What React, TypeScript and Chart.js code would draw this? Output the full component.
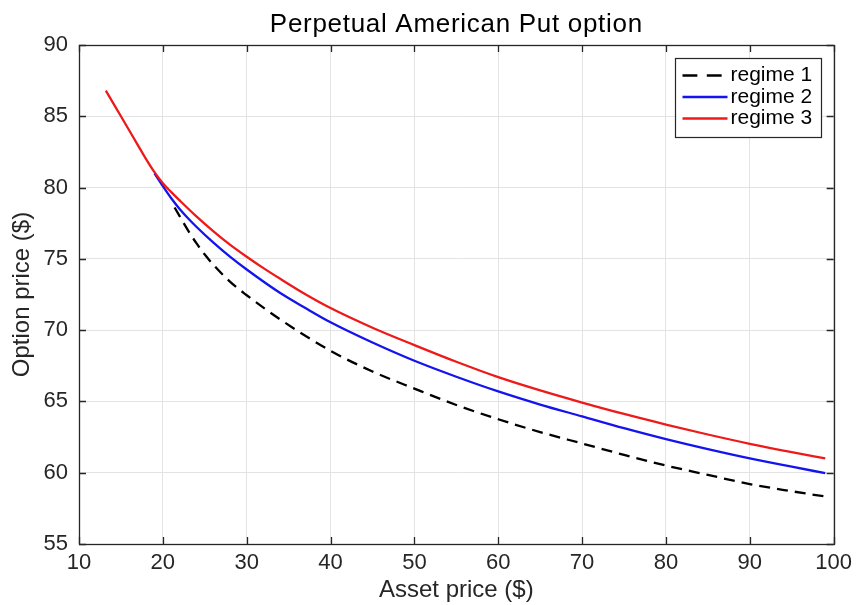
import React, { useEffect, useRef } from "react";
import { Chart, registerables } from "chart.js";

Chart.register(...registerables);

// ---------- data ----------
const chartTitle = "Perpetual American Put option";
const xAxisTitle = "Asset price ($)";
const yAxisTitle = "Option price ($)";
const seriesLabels = ["regime 1", "regime 2", "regime 3"];

const xTicks = [10, 20, 30, 40, 50, 60, 70, 80, 90, 100];
const yTicks = [55, 60, 65, 70, 75, 80, 85, 90];

const regime1X = [21.4, 22, 23, 24, 25, 26, 28, 30, 34, 40, 45, 50, 55, 60, 65, 70, 75, 80, 85, 90, 95, 99];
const regime1Y = [78.6, 78.0, 77.0, 76.1, 75.3, 74.6, 73.4, 72.45, 70.75, 68.55, 67.1, 65.9, 64.75, 63.75, 62.85, 62.05, 61.25, 60.5, 59.85, 59.2, 58.7, 58.33];

const regime2X = [19, 20, 21, 22, 23, 24, 26, 28, 30, 34, 37, 40, 45, 50, 55, 60, 65, 70, 75, 80, 85, 90, 95, 99];
const regime2Y = [81.0, 80.1, 79.25, 78.5, 77.85, 77.25, 76.15, 75.15, 74.25, 72.6, 71.55, 70.55, 69.13, 67.85, 66.73, 65.7, 64.78, 63.95, 63.12, 62.35, 61.65, 61.0, 60.42, 59.97];

const regime3X = [13.2, 15, 17, 18, 19, 20, 21, 22, 24, 26, 28, 30, 32, 34, 37, 40, 45, 50, 55, 60, 65, 70, 75, 80, 85, 90, 95, 99];
const regime3Y = [86.8, 85.0, 83.0, 82.0, 81.08, 80.3, 79.68, 79.1, 77.98, 76.95, 76.0, 75.15, 74.35, 73.6, 72.52, 71.55, 70.17, 68.95, 67.78, 66.7, 65.77, 64.92, 64.12, 63.38, 62.68, 62.03, 61.44, 61.0];

// ---------- styles ----------
const FONT = "'Liberation Sans', Arial, Helvetica, sans-serif";
const AXIS_COLOR = "#262626";
const GRID_COLOR = "#e3e3e3";
const COLORS = ["#000000", "#1414ee", "#ee1a1a"];
const DASHES: number[][] = [[11, 7], [], []];

const toPoints = (xs: number[], ys: number[]) => xs.map((x, i) => ({ x, y: ys[i] }));

const titlePlugin = {
  id: "centeredTitle",
  afterDraw(chart: any) {
    const { ctx, chartArea } = chart;
    ctx.save();
    ctx.font = `26px ${FONT}`;
    try {
      (ctx as any).letterSpacing = "0.7px";
    } catch (e) {}
    ctx.fillStyle = "#000000";
    ctx.textAlign = "center";
    ctx.textBaseline = "alphabetic";
    ctx.fillText(chartTitle, (chartArea.left + chartArea.right) / 2, 31.5);
    ctx.restore();
  },
};

const framePlugin = {
  id: "matlabFrame",
  afterDatasetsDraw(chart: any) {
    const { ctx, chartArea, scales } = chart;
    const { left, right, top, bottom } = chartArea;
    const xs = scales.x;
    const ys = scales.y;
    const tl = 7;
    ctx.save();
    ctx.strokeStyle = AXIS_COLOR;
    ctx.lineWidth = 1.3;
    ctx.setLineDash([]);
    ctx.beginPath();
    xs.ticks.forEach((t: any) => {
      const px = Math.round(xs.getPixelForValue(t.value)) + 0.5;
      ctx.moveTo(px, bottom);
      ctx.lineTo(px, bottom - tl);
      ctx.moveTo(px, top);
      ctx.lineTo(px, top + tl);
    });
    ys.ticks.forEach((t: any) => {
      const py = Math.round(ys.getPixelForValue(t.value)) + 0.5;
      ctx.moveTo(left, py);
      ctx.lineTo(left + tl, py);
      ctx.moveTo(right, py);
      ctx.lineTo(right - tl, py);
    });
    ctx.stroke();
    ctx.strokeRect(Math.round(left) + 0.5, Math.round(top) + 0.5, Math.round(right - left), Math.round(bottom - top));
    ctx.restore();
  },
};

const legendPlugin = {
  id: "boxLegend",
  afterDraw(chart: any) {
    const { ctx, chartArea } = chart;
    const ds = chart.data.datasets;
    const boxW = 146;
    const boxH = 79;
    const bx = Math.round(chartArea.right - 13 - boxW) + 0.5;
    const by = Math.round(chartArea.top + 13) + 0.5;
    ctx.save();
    ctx.fillStyle = "#ffffff";
    ctx.fillRect(bx, by, boxW, boxH);
    ctx.strokeStyle = AXIS_COLOR;
    ctx.lineWidth = 1.2;
    ctx.strokeRect(bx, by, boxW, boxH);
    ctx.font = `21px ${FONT}`;
    ctx.textBaseline = "middle";
    ctx.textAlign = "left";
    ds.forEach((d: any, i: number) => {
      const cy = by + 17 + i * 21.5;
      ctx.strokeStyle = d.borderColor;
      ctx.lineWidth = d.borderWidth;
      const dash = (d.borderDash || []).map((v: number) => v * 1.35);
      ctx.setLineDash(dash);
      ctx.beginPath();
      ctx.moveTo(bx + 7, cy);
      ctx.lineTo(bx + 52, cy);
      ctx.stroke();
      ctx.setLineDash([]);
      ctx.fillStyle = "#000000";
      ctx.fillText(d.label, bx + 55, cy);
    });
    ctx.restore();
  },
};

export default function App() {
  const ref = useRef<HTMLCanvasElement | null>(null);

  useEffect(() => {
    document.body.style.margin = "0";
    const canvas = ref.current;
    if (!canvas) return;
    const xsList = [regime1X, regime2X, regime3X];
    const ysList = [regime1Y, regime2Y, regime3Y];
    const chart = new Chart(canvas, {
      type: "line",
      data: {
        datasets: seriesLabels.map((label, i) => ({
          label,
          data: toPoints(xsList[i], ysList[i]),
          borderColor: COLORS[i],
          backgroundColor: COLORS[i],
          borderWidth: 2.3,
          borderDash: DASHES[i],
          pointRadius: 0,
          fill: false,
          tension: 0.4,
          cubicInterpolationMode: "monotone" as const,
          order: 2 - i,
        })),
      },
      options: {
        responsive: false,
        animation: false,
        layout: { padding: { left: 0, right: 23, top: 45, bottom: 0 } },
        plugins: {
          legend: { display: false },
          tooltip: { enabled: false },
          title: { display: false },
        },
        scales: {
          x: {
            type: "linear",
            min: 10,
            max: 100,
            afterBuildTicks: (scale: any) => {
              scale.ticks = xTicks.map((v) => ({ value: v }));
            },
            afterFit: (scale: any) => {
              scale.height = 61;
            },
            ticks: {
              color: AXIS_COLOR,
              font: { family: FONT, size: 22 },
              padding: 6,
              maxRotation: 0,
              autoSkip: false,
            },
            grid: { color: GRID_COLOR, drawTicks: false },
            border: { display: false },
            title: {
              display: true,
              text: xAxisTitle,
              color: AXIS_COLOR,
              font: { family: FONT, size: 24 },
              padding: { top: 0, bottom: 0 },
            },
          },
          y: {
            type: "linear",
            min: 55,
            max: 90,
            afterBuildTicks: (scale: any) => {
              scale.ticks = yTicks.map((v) => ({ value: v }));
            },
            afterFit: (scale: any) => {
              scale.width = 79;
            },
            ticks: {
              color: AXIS_COLOR,
              font: { family: FONT, size: 22 },
              padding: 11,
              autoSkip: false,
            },
            grid: { color: GRID_COLOR, drawTicks: false },
            border: { display: false },
            title: {
              display: true,
              text: yAxisTitle,
              color: AXIS_COLOR,
              font: { family: FONT, size: 24 },
              padding: { top: 8, bottom: 0 },
            },
          },
        },
      },
      plugins: [framePlugin, legendPlugin, titlePlugin],
    });
    return () => chart.destroy();
  }, []);

  return (
    <div style={{ position: "absolute", left: 0, top: 0, width: 858, height: 605, background: "#ffffff" }}>
      <canvas ref={ref} width={858} height={605} style={{ display: "block" }} />
    </div>
  );
}
